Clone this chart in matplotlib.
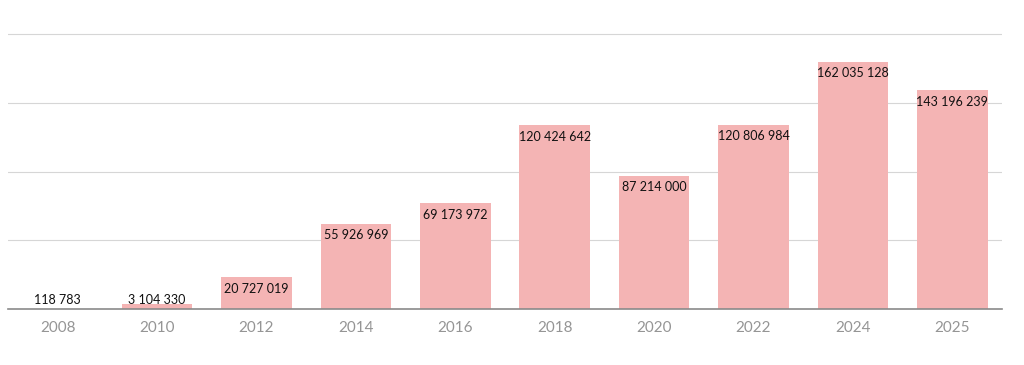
import matplotlib
matplotlib.use("Agg")
import matplotlib.pyplot as plt

# ---- Data ----
years = ["2008", "2010", "2012", "2014", "2016", "2018", "2020", "2022", "2024", "2025"]
values = [118783, 3104330, 20727019, 55926969, 69173972, 120424642,
          87214000, 120806984, 162035128, 143196239]
grid_levels = [45e6, 90e6, 135e6, 180e6]

BAR_COLOR = "#f4b4b4"
FONTS = ["Lato", "DejaVu Sans"]


def fmt(v):
    return f"{v:,}".replace(",", " ")


fig = plt.figure(figsize=(10.24, 3.65), dpi=100)
ax = fig.add_axes([8 / 1024, 56 / 365, 994 / 1024, 282.5 / 365])

x = range(len(years))
ax.bar(x, values, width=0.71, color=BAR_COLOR, zorder=2)

for lvl in grid_levels:
    ax.axhline(lvl, color="#d6d6d6", linewidth=0.8, zorder=1)
ax.axhline(0, color="#8a8a8a", linewidth=1.2, zorder=3, clip_on=False)

for i, v in enumerate(values):
    if v < 12e6:
        ax.annotate(fmt(v), (i, 0), xytext=(0, 2), textcoords="offset points",
                    ha="center", va="bottom", fontsize=9, color="#111111",
                    family=FONTS, zorder=4)
    else:
        ax.annotate(fmt(v), (i, v), xytext=(0, -4), textcoords="offset points",
                    ha="center", va="top", fontsize=9, color="#111111",
                    family=FONTS, zorder=4)

ax.set_xlim(-0.5, len(years) - 0.5)
ax.set_ylim(0, 185e6)
ax.set_xticks(list(x))
ax.set_xticklabels(years, fontsize=11, color="#959595", family=FONTS)
ax.tick_params(axis="x", length=0, pad=9)
ax.set_yticks([])
for s in ax.spines.values():
    s.set_visible(False)

fig.savefig("out.png", dpi=100)
